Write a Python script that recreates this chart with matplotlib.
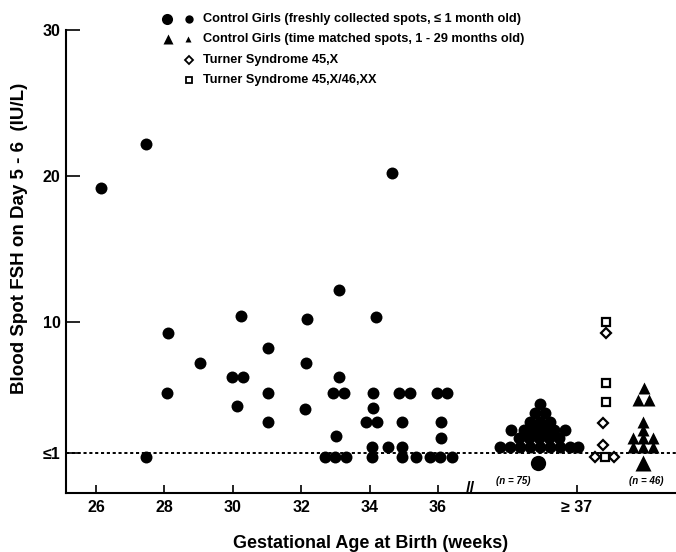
import numpy as np
import matplotlib
matplotlib.use("Agg")
import matplotlib.pyplot as plt
from matplotlib.lines import Line2D

plt.rcParams['font.family'] = ['Liberation Sans', 'DejaVu Sans']
plt.rcParams['font.weight'] = 'bold'

# Preterm control girls (freshly collected spots)
PretermGA = [26.14, 27.45, 34.65, 33.11, 30.24, 32.18, 34.19, 28.10, 29.04, 29.98,
             30.29, 31.04, 32.14, 33.11, 28.08, 31.04, 32.92, 33.25, 34.11, 34.86,
             35.18, 35.96, 36.27, 30.13, 32.11, 34.11, 31.04, 33.89, 34.23, 34.96,
             36.08, 33.03, 36.08, 27.46, 32.70, 32.99, 33.30, 34.06, 34.06, 34.54,
             34.94, 34.94, 35.37, 35.77, 36.06, 36.40]
PretermFSH = [19.2, 22.2, 20.2, 12.2, 10.4, 10.2, 10.3, 9.2, 7.2, 6.2,
              6.2, 8.2, 7.2, 6.2, 5.1, 5.1, 5.1, 5.1, 5.1, 5.1,
              5.1, 5.1, 5.1, 4.2, 4.0, 4.1, 3.1, 3.1, 3.1, 3.1,
              3.1, 2.2, 2.0, 0.75, 0.75, 0.75, 0.75, 1.43, 0.75, 1.43,
              1.43, 0.75, 0.75, 0.75, 0.75, 0.75]

# Term control girls (>= 37 weeks), freshly collected, n = 75
TermX = [38.98,
         38.84, 39.13,
         38.69, 38.98, 39.27,
         38.13, 38.51, 38.80, 39.10, 39.40, 39.71,
         38.37, 38.66, 38.95, 39.24, 39.54,
         37.81, 38.11, 38.40, 38.69, 38.98, 39.27, 39.57, 39.86, 40.08]
TermFSH = [4.34,
           3.72, 3.72,
           3.15, 3.15, 3.15,
           2.58, 2.58, 2.58, 2.58, 2.58, 2.58,
           2.0, 2.0, 2.0, 2.0, 2.0,
           1.43, 1.43, 1.43, 1.43, 1.43, 1.43, 1.43, 1.43, 1.43]
TermBigX = [38.92]
TermBigFSH = [0.29]

# Time matched control girls, n = 46
MatchedX = [42.02, 41.86, 42.18, 42.0, 42.0, 41.71, 42.0, 42.29, 41.71, 42.0, 42.29]
MatchedFSH = [5.47, 4.63, 4.63, 3.15, 2.58, 2.0, 2.0, 2.0, 1.43, 1.43, 1.43]
MatchedBigX = [41.98]
MatchedBigFSH = [0.29]

# Turner syndrome
Turner45X_X = [40.90, 40.83, 40.83, 40.59, 41.15]
Turner45X_FSH = [9.25, 3.04, 1.55, 0.75, 0.75]
TurnerMosaic_X = [40.90, 40.90, 40.90, 40.88]
TurnerMosaic_FSH = [10.0, 5.82, 4.5, 0.75]

XTicks = [26, 28, 30, 32, 34, 36, 40.06]
XTickLabels = ['26', '28', '30', '32', '34', '36', '\u2265 37']
YTicks = [1, 10, 20, 30]
YTickLabels = ['\u22641', '10', '20', '30']

fig = plt.figure(figsize=(6.76, 5.52), dpi=100)
ax = fig.add_axes([66/676, 59/552, 610/676, 463/552])
ax.set_xlim(25.123, 42.959)
ax.set_ylim(-1.742, 30)

ax.axhline(1, color='black', lw=1.4, ls=(0, (1.6, 1.4)), zorder=1)

ax.plot(PretermGA, PretermFSH, 'o', color='black', ms=8.6, mec='none', zorder=3)
ax.plot(TermX, TermFSH, 'o', color='black', ms=8.6, mec='none', zorder=3)
ax.plot(TermBigX, TermBigFSH, 'o', color='black', ms=11, mec='none', zorder=3)
ax.plot(MatchedX, MatchedFSH, '^', color='black', ms=8.5, mec='none', zorder=3)
ax.plot(MatchedBigX, MatchedBigFSH, '^', color='black', ms=11.5, mec='none', zorder=3)
ax.plot(Turner45X_X, Turner45X_FSH, 'D', mfc='white', mec='black', mew=1.6, ms=5.6, zorder=4)
ax.plot(TurnerMosaic_X, TurnerMosaic_FSH, 's', mfc='white', mec='black', mew=1.6, ms=6.0, zorder=4)

for s in ['top', 'right']:
    ax.spines[s].set_visible(False)
for s in ['left', 'bottom']:
    ax.spines[s].set_linewidth(1.5)

ax.set_xticks(XTicks)
ax.set_xticklabels(XTickLabels, fontsize=11.5, fontweight='bold')
ax.set_yticks(YTicks)
ax.set_yticklabels(YTickLabels, fontsize=11.5, fontweight='bold')
ax.tick_params(axis='x', direction='in', length=6, width=1.2, pad=5)
ax.tick_params(axis='y', direction='in', length=10, width=1.2, pad=4)

ax.text(38.19, -0.95, '(n = 75)', fontsize=7, fontweight='bold', style='italic', ha='center', va='center')
ax.text(42.1, -0.95, '(n = 46)', fontsize=7, fontweight='bold', style='italic', ha='center', va='center')
ax.text(36.94, -1.4, '//', fontsize=12, fontweight='bold', ha='center', va='center', clip_on=False)

fig.text(20/676, 1 - 238/552, 'Blood Spot FSH on Day 5 - 6  (IU/L)', rotation=90,
         fontsize=13.5, fontweight='bold', ha='center', va='center')
fig.text(371/676, 1 - 544/552, 'Gestational Age at Birth (weeks)',
         fontsize=13, fontweight='bold', ha='center', va='center')

# Legend drawn by hand
RowY = [19, 39, 60, 80]
Labels = ['Control Girls (freshly collected spots, \u2264 1 month old)',
          'Control Girls (time matched spots, 1 - 29 months old)',
          'Turner Syndrome 45,X',
          'Turner Syndrome 45,X/46,XX']
def fy(p):
    return 1 - p/552
fig.add_artist(Line2D([167/676], [fy(RowY[0])], marker='o', color='black', ms=8, mec='none', transform=fig.transFigure))
fig.add_artist(Line2D([189/676], [fy(RowY[0])], marker='o', color='black', ms=6, mec='none', transform=fig.transFigure))
fig.add_artist(Line2D([168/676], [fy(RowY[1])], marker='^', color='black', ms=6.5, mec='none', transform=fig.transFigure))
fig.add_artist(Line2D([188/676], [fy(RowY[1])], marker='^', color='black', ms=4.5, mec='none', transform=fig.transFigure))
fig.add_artist(Line2D([189/676], [fy(RowY[2])], marker='D', mfc='white', mec='black', mew=1.3, ms=4.4, transform=fig.transFigure))
fig.add_artist(Line2D([189/676], [fy(RowY[3])], marker='s', mfc='white', mec='black', mew=1.3, ms=4.7, transform=fig.transFigure))
for i in range(len(Labels)):
    fig.text(203/676, fy(RowY[i]), Labels[i], fontsize=9.2, fontweight='bold', ha='left', va='center')

fig.savefig('out.png', dpi=100, facecolor='white')
